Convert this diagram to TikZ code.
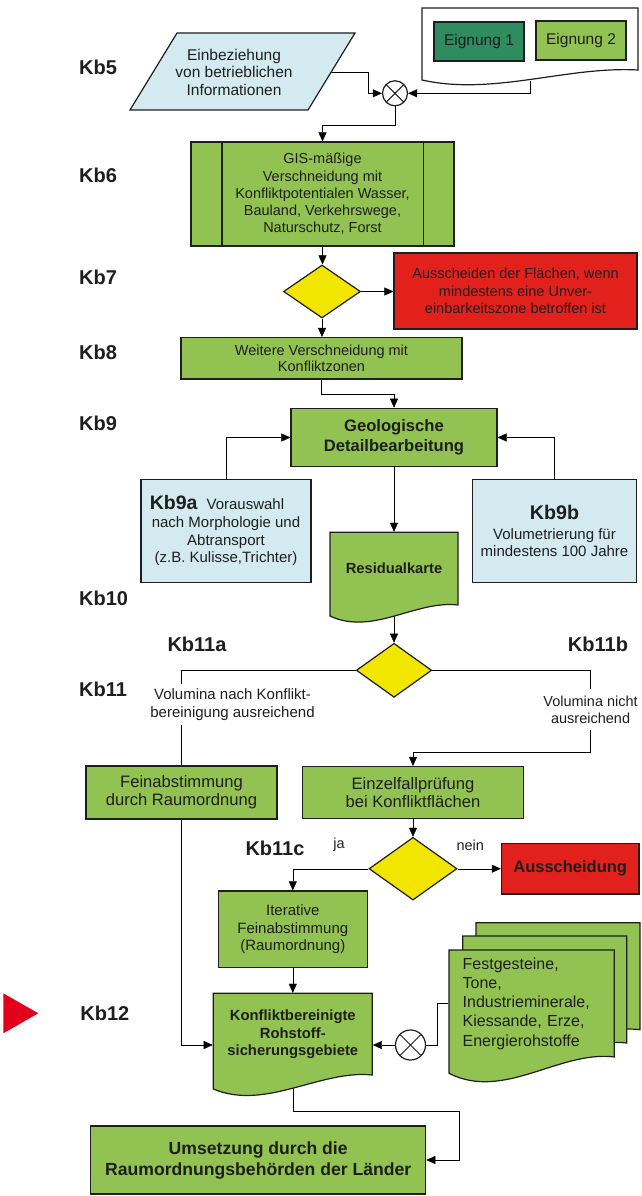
\documentclass[tikz,border=0pt]{standalone}
\usepackage{fontspec}
\setmainfont{Liberation Sans}
\usetikzlibrary{shapes.geometric,arrows.meta,backgrounds,calc}

\definecolor{boxgreen}{RGB}{146,195,82}
\definecolor{darkgreen}{RGB}{46,140,94}
\definecolor{paleblue}{RGB}{212,234,241}
\definecolor{decyellow}{RGB}{242,230,0}
\definecolor{stopred}{RGB}{227,33,28}
\definecolor{markred}{RGB}{226,0,26}
\definecolor{ink}{RGB}{30,30,30}

\newcommand\fsz[2]{\fontsize{#1}{#2}\selectfont}
% document shape with a wavy lower edge: x0, top, x1, left bottom, right bottom, wave depth
\newcommand\wavedoc[7][fill=boxgreen]{%
  \filldraw[#1] (#2,#3) -- (#4,#3) -- (#4,#6)
    .. controls ({#2+0.67*(#4-#2)},{#6-0.25*#7}) and ({#2+0.33*(#4-#2)},{#5+#7}) .. (#2,#5) -- cycle;}

\tikzset{
  box/.style={rectangle, draw, fill=boxgreen, inner sep=0pt, align=center},
  bluebox/.style={box, fill=paleblue},
  redbox/.style={box, fill=stopred},
  decision/.style={diamond, draw, fill=decyellow, inner sep=0pt},
  junction/.style={circle, draw, fill=white, inner sep=0pt, minimum size=#1,
    path picture={\draw[line width=1pt]
      (path picture bounding box.north west) -- (path picture bounding box.south east)
      (path picture bounding box.north east) -- (path picture bounding box.south west);}},
  textonly/.style={inner sep=0pt, align=center},
  kblabel/.style={font=\bfseries\fsz{20}{24}, anchor=west, inner sep=0pt},
  arr/.style={-{Triangle[length=9pt,width=8pt]}}
}

\begin{document}
\begin{tikzpicture}[x=1pt, y=-1pt, line width=1.2pt, color=ink]
\useasboundingbox (0,0) rectangle (642,1196);

% step labels
\node[kblabel] (l5) at (78.6,67) {Kb5};
\node[kblabel] (l6) at (78.6,175) {Kb6};
\node[kblabel] (l7) at (78.6,277) {Kb7};
\node[kblabel] (l8) at (78.6,352) {Kb8};
\node[kblabel] (l9) at (78.6,423) {Kb9};
\node[kblabel] (l10) at (78.6,598) {Kb10};
\node[kblabel] (l11) at (78.6,689) {Kb11};
\node[kblabel] (l12) at (79.8,1013) {Kb12};
\node[kblabel, anchor=center] (l11a) at (197,644) {Kb11a};
\node[kblabel, anchor=center] (l11b) at (598,644) {Kb11b};
\node[kblabel, anchor=center] (l11c) at (275,848) {Kb11c};
\fill[markred] (3.3,993.3) -- (38.3,1013.3) -- (3.3,1033.3) -- cycle;

% Kb5: inputs
\filldraw[fill=paleblue] (177,33) -- (355,33) -- (308,110) -- (130,110) -- cycle;
\node[textonly, font=\fsz{15.5}{17.5}] (par) at (234,72) {Einbeziehung\\von betrieblichen\\Informationen};

\wavedoc[fill=white]{422}{8}{638}{80}{70}{16}
\node[inner sep=0pt, minimum width=216, minimum height=72] (eigdoc) at (530,44) {};
\node[box, fill=darkgreen, minimum width=90, minimum height=39, font=\fsz{15.5}{18}] (e1) at (479,41.5) {Eignung 1};
\node[box, minimum width=90, minimum height=39, font=\fsz{15.5}{18}] (e2) at (581,40.5) {Eignung 2};

\node[junction=25] (mix1) at (395,93.3) {};

% Kb6
\node[box, minimum width=263, minimum height=104, font=\fsz{14.5}{17.3}] (gis) at (322.5,194)
  {GIS-mäßige\\Verschneidung mit\\Konfliktpotentialen Wasser,\\Bauland, Verkehrswege,\\Naturschutz, Forst};
\draw ([xshift=31.5pt]gis.north west) -- ([xshift=31.5pt]gis.south west);
\draw ([xshift=-31.5pt]gis.north east) -- ([xshift=-31.5pt]gis.south east);

% Kb7
\node[decision, minimum width=77, minimum height=53] (d1) at (322,291.5) {};
\node[redbox, minimum width=243, minimum height=76, font=\fsz{14.5}{17.2}] (red1) at (515.5,291)
  {Ausscheiden der Flächen, wenn\\mindestens eine Unver-\\einbarkeitszone betroffen ist};

% Kb8
\node[box, minimum width=281, minimum height=41.5, font=\fsz{14.5}{16.7}] (k8) at (321.5,358.3)
  {Weitere Verschneidung mit\\Konfliktzonen};

% Kb9
\node[box, minimum width=206, minimum height=58.4, font=\bfseries\fsz{16.6}{20}] (k9) at (394,437.5)
  {Geologische\\Detailbearbeitung};
\node[bluebox, minimum width=170, minimum height=103, font=\fsz{15}{17.7}] (k9a) at (226,530.7)
  {{\bfseries\fsz{19.5}{17.7}Kb9a}\hspace{9pt}Vorauswahl\hspace*{18pt}\\nach Morphologie und\\Abtransport\\(z.B. Kulisse,Trichter)};
\node[bluebox, minimum width=164, minimum height=103, font=\fsz{15}{17}] (k9b) at (554.5,530.7)
  {{\bfseries\fsz{19.7}{20}Kb9b}\\[3pt]Volumetrierung für\\mindestens 100 Jahre};

% Kb10
\wavedoc{330}{532.3}{458}{616}{605}{20}
\node[textonly, minimum width=128, minimum height=72.7, font=\bfseries\fsz{14.7}{17}] (res) at (394,568.7) {Residualkarte};

% Kb11
\node[decision, minimum width=75.4, minimum height=54] (d2) at (394,670.3) {};
\node[textonly, inner ysep=4pt, font=\fsz{15}{17.3}] (vol1) at (232.5,704.7) {Volumina nach Konflikt-\\bereinigung ausreichend};
\node[textonly, inner ysep=6pt, font=\fsz{14.5}{17.3}] (vol2) at (590.6,709.7) {Volumina nicht\\ausreichend};
\node[box, minimum width=191, minimum height=53, font=\fsz{16.6}{18.3}] (fein) at (181.5,792.5) {Feinabstimmung\\durch Raumordnung};
\node[box, minimum width=221.5, minimum height=52, font=\fsz{16.6}{18.3}] (einz) at (413,792.5) {Einzelfallprüfung\\bei Konfliktflächen};

% Kb11c
\node[decision, minimum width=88, minimum height=62.7] (d3) at (413,868.7) {};
\node[textonly, font=\fsz{14.5}{17}] (ja) at (339,845) {ja};
\node[textonly, font=\fsz{14.5}{17}] (nein) at (470.3,845) {nein};
\node[redbox, minimum width=137.6, minimum height=50.7, font=\bfseries\fsz{16.5}{19}] (aus) at (570.2,868.7) {Ausscheidung};
\node[box, minimum width=149, minimum height=76.7, font=\fsz{15}{17.5}] (iter) at (292.8,929.3) {Iterative\\Feinabstimmung\\(Raumordnung)};

% Kb12
\wavedoc{213.3}{993.3}{372.3}{1089}{1075}{22}
\node[textonly, minimum width=159, minimum height=81.7, font=\bfseries\fsz{14.8}{17.5}] (kb12) at (292.8,1034.2)
  {Konfliktbereinigte\\Rohstoff-\\sicherungsgebiete};
\wavedoc{476}{922.7}{640}{1046}{1029.7}{28}
\wavedoc{462.7}{936}{626.7}{1059.3}{1043}{28}
\wavedoc{449}{950}{614.3}{1073.3}{1057}{28}
\node[inner sep=0pt, minimum width=165.3, minimum height=107, text width=138, align=left, font=\fsz{16}{19.3}] (rohst) at (531.65,1003.5)
  {Festgesteine,\\Tone,\\Industrieminerale,\\Kiessande, Erze,\\Energierohstoffe};
\node[junction=30] (mix2) at (410.5,1045) {};

\node[box, minimum width=335, minimum height=68, font=\bfseries\fsz{17.6}{21}] (fin) at (258.2,1160)
  {Umsetzung durch die\\Raumordnungsbehörden der Länder};

% connectors, kept beneath the shapes
\begin{scope}[on background layer]
\draw[arr] (par.east) -- (368,72) |- (mix1.west);
\draw[arr] (eigdoc.south) |- (mix1.east);
\draw[arr] (mix1.south) -- ++(0,19) -| (gis.north);
\draw[arr] (gis.south) -- (gis.south |- d1.north);
\draw[arr] (d1.east) -- (d1.east -| red1.west);
\draw[arr] (d1.south) -- (d1.south |- k8.north);
\draw[arr] (k8.south) -- ++(0,14.5) -| (k9.north);
\draw[arr] (k9a.north) |- (k9.west);
\draw[arr] (k9b.north) |- (k9.east);
\draw[arr] (k9.south) -- (res.north);
\draw[arr] (res.south) -- (d2.north);
\draw (d2.west) -| (vol1.north -| fein.north);
\draw (vol1.south -| fein.north) -- (fein.north);
\draw (d2.east) -| (vol2.north);
\draw[arr] (vol2.south) -- ++(0,22) -| (einz.north);
\draw[arr] (fein.south) |- (kb12.west |- mix2.center);
\draw[arr] (einz.south) -- (d3.north);
\draw[arr] (d3.east) -- (aus.west);
\draw[arr] (d3.west) -| (iter.north);
\draw[arr] (iter.south) -- (iter.south |- kb12.north);
\draw (rohst.west) -- ++(-11.3,0) |- (mix2.east);
\draw[arr] (mix2.west) -- (kb12.east |- mix2.center);
\draw[arr] (kb12.south) |- (459,1110.7) |- (fin.east);
\end{scope}
\end{tikzpicture}
\end{document}
